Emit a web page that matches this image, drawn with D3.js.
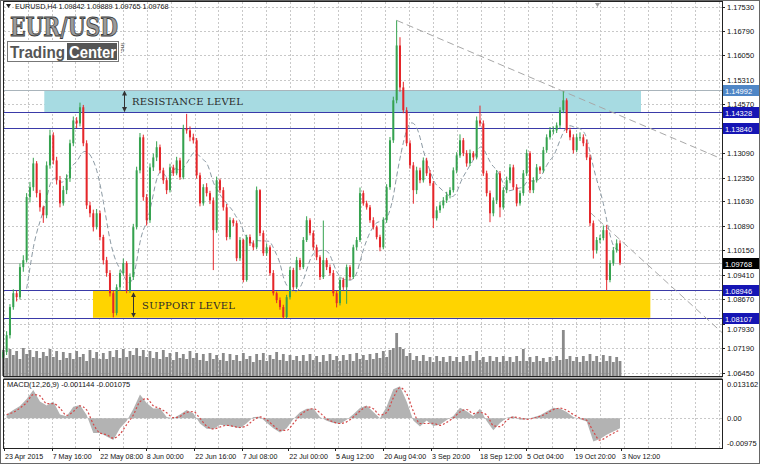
<!DOCTYPE html>
<html>
<head>
<meta charset="utf-8">
<script src="https://cdn.jsdelivr.net/npm/d3@7"></script>
<style>
  body { margin: 0; background: #fff; }
  svg { display: block; font-family: "Liberation Sans", Arial, sans-serif; }
</style>
</head>
<body>
<svg width="760" height="464"></svg>
<script>
// ---- data (one bar ~ one trading day) ----
const firstOpen = 1.0690;
const closes = [
  1.0707, 1.0758, 1.0843, 1.0885, 1.0873, 1.0964, 1.0985, 1.1176, 1.1206, 1.1278,
  1.1188, 1.1145, 1.1121, 1.1272, 1.1363, 1.1287, 1.1227, 1.1157, 1.1197, 1.1233,
  1.1339, 1.1408, 1.1399, 1.1448, 1.1339, 1.1151, 1.1127, 1.1085, 1.1127, 1.1055,
  1.0985, 1.0946, 1.0885, 1.0825, 1.0903, 1.0946, 1.0976, 1.0894, 1.0934, 1.1085,
  1.1257, 1.1357, 1.1176, 1.1106, 1.1266, 1.1296, 1.1327, 1.1257, 1.1227, 1.1197,
  1.1266, 1.1248, 1.1287, 1.1236, 1.1384, 1.1378, 1.1357, 1.1348, 1.1242, 1.1157,
  1.1206, 1.1188, 1.1166, 1.1076, 1.1227, 1.1197, 1.1145, 1.1055, 1.1106, 1.1097,
  1.0991, 1.1046, 1.0925, 1.1055, 1.1036, 1.1024, 1.1197, 1.1067, 1.1006, 1.1024,
  1.0946, 1.0885, 1.0864, 1.0843, 1.0813, 1.0873, 1.0955, 1.0903, 1.0985, 1.0964,
  1.1046, 1.1106, 1.1067, 1.1024, 1.0994, 1.0934, 1.0985, 1.0964, 1.0946, 1.0885,
  1.0855, 1.0925, 1.0903, 1.0964, 1.0934, 1.1024, 1.1046, 1.1188, 1.1157, 1.1145,
  1.1106, 1.1085, 1.1055, 1.1024, 1.1106, 1.1206, 1.1348, 1.1469, 1.1635, 1.1508,
  1.1439, 1.1339, 1.1272, 1.1197, 1.1257, 1.1227, 1.1287, 1.1248, 1.1218, 1.1112,
  1.1136, 1.1151, 1.1166, 1.1182, 1.1197, 1.1257, 1.1302, 1.1348, 1.1309, 1.1278,
  1.1309, 1.1296, 1.1408, 1.1399, 1.1248, 1.1188, 1.1127, 1.1166, 1.1248, 1.1145,
  1.1197, 1.1227, 1.1266, 1.1206, 1.1157, 1.1188, 1.1248, 1.1309, 1.1197, 1.1227,
  1.1266, 1.1257, 1.1318, 1.1357, 1.1378, 1.1378, 1.1393, 1.1439, 1.1469, 1.1378,
  1.1357, 1.1318, 1.1357, 1.1357, 1.1339, 1.1296, 1.1097, 1.1015, 1.1046, 1.1052,
  1.1076, 1.0925, 1.0976, 1.1015, 1.1036, 1.0977
];
const highs = [
  1.0718, 1.0770, 1.0852, 1.0897, 1.0893, 1.0975, 1.1000, 1.1188, 1.1222, 1.1295,
  1.1285, 1.1198, 1.1150, 1.1284, 1.1380, 1.1372, 1.1298, 1.1240, 1.1210, 1.1245,
  1.1350, 1.1420, 1.1418, 1.1462, 1.1455, 1.1348, 1.1162, 1.1138, 1.1140, 1.1135,
  1.1062, 1.0995, 1.0955, 1.0893, 1.0912, 1.0955, 1.0990, 1.0982, 1.0945, 1.1095,
  1.1268, 1.1370, 1.1365, 1.1185, 1.1278, 1.1308, 1.1345, 1.1335, 1.1265, 1.1235,
  1.1277, 1.1274, 1.1298, 1.1295, 1.1395, 1.1428, 1.1390, 1.1368, 1.1355, 1.1250,
  1.1215, 1.1218, 1.1195, 1.1175, 1.1238, 1.1232, 1.1206, 1.1155, 1.1115, 1.1112,
  1.1105, 1.1055, 1.1050, 1.1062, 1.1063, 1.1045, 1.1208, 1.1200, 1.1075, 1.1035,
  1.1030, 1.0955, 1.0890, 1.0872, 1.0850, 1.0880, 1.0965, 1.0962, 1.0995, 1.0992,
  1.1055, 1.1118, 1.1112, 1.1075, 1.1032, 1.1000, 1.1105, 1.0992, 1.0972, 1.0955,
  1.0893, 1.0935, 1.0932, 1.0972, 1.0970, 1.1032, 1.1055, 1.1205, 1.1196, 1.1165,
  1.1152, 1.1115, 1.1090, 1.1062, 1.1115, 1.1215, 1.1358, 1.1480, 1.1711, 1.1660,
  1.1525, 1.1448, 1.1348, 1.1282, 1.1268, 1.1265, 1.1296, 1.1295, 1.1258, 1.1225,
  1.1148, 1.1162, 1.1176, 1.1192, 1.1206, 1.1266, 1.1312, 1.1366, 1.1355, 1.1318,
  1.1320, 1.1315, 1.1420, 1.1453, 1.1408, 1.1256, 1.1196, 1.1175, 1.1258, 1.1255,
  1.1206, 1.1238, 1.1276, 1.1274, 1.1215, 1.1196, 1.1258, 1.1320, 1.1315, 1.1236,
  1.1276, 1.1270, 1.1328, 1.1366, 1.1388, 1.1390, 1.1402, 1.1448, 1.1496, 1.1475,
  1.1386, 1.1366, 1.1368, 1.1372, 1.1366, 1.1350, 1.1305, 1.1105, 1.1055, 1.1062,
  1.1090, 1.1092, 1.0985, 1.1025, 1.1048, 1.1045
];
const lows = [
  1.0685, 1.0698, 1.0748, 1.0835, 1.0860, 1.0866, 1.0950, 1.0978, 1.1160, 1.1195,
  1.1175, 1.1132, 1.1098, 1.1112, 1.1262, 1.1275, 1.1214, 1.1145, 1.1150, 1.1185,
  1.1222, 1.1330, 1.1385, 1.1390, 1.1330, 1.1140, 1.1115, 1.1072, 1.1078, 1.1045,
  1.0972, 1.0935, 1.0875, 1.0812, 1.0818, 1.0892, 1.0938, 1.0885, 1.0886, 1.0925,
  1.1078, 1.1248, 1.1165, 1.1090, 1.1098, 1.1255, 1.1285, 1.1248, 1.1216, 1.1185,
  1.1190, 1.1240, 1.1242, 1.1228, 1.1230, 1.1368, 1.1345, 1.1338, 1.1232, 1.1148,
  1.1150, 1.1178, 1.1155, 1.0955, 1.1068, 1.1188, 1.1135, 1.1045, 1.1048, 1.1088,
  1.0982, 1.0983, 1.0918, 1.0920, 1.1028, 1.1015, 1.1018, 1.1058, 1.0998, 1.0998,
  1.0938, 1.0878, 1.0855, 1.0835, 1.0808, 1.0810, 1.0866, 1.0895, 1.0898, 1.0955,
  1.0958, 1.1040, 1.1060, 1.1015, 1.0985, 1.0925, 1.0928, 1.0955, 1.0938, 1.0876,
  1.0842, 1.0848, 1.0895, 1.0853, 1.0925, 1.0928, 1.1015, 1.1040, 1.1150, 1.1138,
  1.1098, 1.1078, 1.1048, 1.1012, 1.1018, 1.1098, 1.1198, 1.1340, 1.1460, 1.1495,
  1.1430, 1.1330, 1.1262, 1.1156, 1.1185, 1.1218, 1.1220, 1.1240, 1.1210, 1.1082,
  1.1105, 1.1128, 1.1142, 1.1158, 1.1172, 1.1190, 1.1248, 1.1295, 1.1300, 1.1268,
  1.1270, 1.1288, 1.1290, 1.1390, 1.1240, 1.1178, 1.1100, 1.1118, 1.1155, 1.1115,
  1.1138, 1.1188, 1.1218, 1.1198, 1.1148, 1.1150, 1.1180, 1.1240, 1.1188, 1.1188,
  1.1220, 1.1246, 1.1250, 1.1310, 1.1350, 1.1366, 1.1370, 1.1385, 1.1430, 1.1370,
  1.1348, 1.1308, 1.1312, 1.1346, 1.1330, 1.1288, 1.1088, 1.0990, 1.1005, 1.1036,
  1.1045, 1.0894, 1.0918, 1.0968, 1.1008, 1.0970
];
const volumes = [
  5200, 3600, 5400, 4200, 5000, 3400, 5600, 4400, 5200, 3800, 5000, 3600, 4800, 4000, 5400,
  3800, 5000, 3200, 4800, 3600, 4600, 3400, 5000, 3800, 4400, 3000, 5200, 3600, 4800, 3400,
  4600, 3400, 5000, 3800, 5200, 3600, 5400, 3800, 5000, 4200, 5600, 4000, 5200, 3800, 5000,
  3600, 4800, 3400, 5200, 3800, 4600, 3200, 4800, 3600, 4400, 3400, 5000, 3600, 4600, 3200,
  4400, 3000, 4600, 3400, 4200, 3200, 4600, 3000, 4400, 3200, 4200, 3000, 4600, 3400, 4000,
  2800, 4400, 3200, 4600, 3000, 4200, 3400, 4800, 3200, 4400, 3000, 4200, 3200, 4000, 3000,
  4200, 3000, 4400, 3200, 4000, 2800, 4200, 3000, 4400, 3200, 4000, 3000, 4200, 3200, 4400,
  3000, 4600, 3400, 4200, 3200, 4400, 3400, 4600, 3600, 5000, 3800, 5200, 5600, 8600, 5800,
  5400, 4000, 4600, 3200, 4000, 3000, 4200, 3000, 3800, 2800, 4000, 3000, 3800, 2800, 4000,
  3000, 3800, 2800, 4000, 3000, 4200, 3000, 5000, 3200, 3800, 2800, 4000, 3000, 3800, 2800,
  4000, 3000, 3800, 2800, 4000, 3000, 5400, 3000, 3800, 2800, 4000, 3000, 3600, 2800, 3800,
  3000, 4000, 3200, 9200, 3400, 4000, 3000, 3800, 2800, 4000, 3000, 4400, 3000, 4000, 2800,
  4200, 3000, 4000, 2800, 3800, 3000
];
// MACD main line, one reading for every second bar
const macdMain = [
  0.0015, 0.0032, 0.0048, 0.0075, 0.0110, 0.0065, 0.0050, 0.0065, 0.0015, 0.0008,
  0.0045, 0.0052, 0.0013, -0.0057, -0.0057, -0.0070, -0.0084, -0.0038, -0.0010, 0.0036,
  0.0093, 0.0060, 0.0038, 0.0039, 0.0005, 0.0000, 0.0015, 0.0032, 0.0020, -0.0020,
  -0.0040, -0.0042, -0.0025, -0.0029, -0.0033, -0.0038, -0.0019, 0.0005, 0.0006, -0.0017,
  -0.0038, -0.0055, -0.0038, -0.0002, 0.0024, 0.0037, 0.0038, 0.0005, -0.0009, -0.0018,
  -0.0022, -0.0005, 0.0016, 0.0040, 0.0050, 0.0025, 0.0000, 0.0046, 0.0113, 0.0125,
  0.0065, -0.0008, -0.0032, -0.0008, -0.0030, -0.0025, -0.0006, 0.0009, 0.0041, 0.0028,
  0.0009, 0.0037, -0.0010, -0.0046, -0.0018, 0.0002, 0.0008, -0.0005, -0.0003, 0.0004,
  0.0012, 0.0027, 0.0041, 0.0038, 0.0025, 0.0005, -0.0003, -0.0012, -0.0090, -0.0080,
  -0.0064, -0.0051, -0.0038
];

const priceTicks = [1.1753, 1.1679, 1.1605, 1.1531, 1.1457, 1.1384, 1.1309, 1.1235,
  1.1163, 1.1089, 1.1015, 1.0941, 1.0867, 1.0793, 1.0719, 1.0645];
const timeTickBars = [1.2, 15.5, 29.8, 43.7, 58.3, 72.5, 86.5, 100.5, 115, 129.3, 143.7, 157.8, 172.2, 186.3];
const timeTickLabels = ["23 Apr 2015", "7 May 16:00", "22 May 08:00", "8 Jun 00:00", "22 Jun 16:00",
  "7 Jul 08:00", "22 Jul 00:00", "5 Aug 12:00", "20 Aug 04:00", "3 Sep 20:00", "18 Sep 12:00",
  "5 Oct 04:00", "19 Oct 20:00", "3 Nov 12:00"];

const zoneTopPrice = 1.14992;
const resistanceLines = [1.14328, 1.13840];
const supportLines = [1.08946, 1.08107];
const lastPrice = 1.09768;
const resistanceZoneBars = [13.3, 192.3];
const supportZoneBars = [27.9, 195.1];
const macdTicks = [0.013162, 0, -0.00975];
const macdTickLabels = ["0.013162", "0.00", "-0.00975"];

// ---- layout ----
const svg = d3.select("svg");
const main = { left: 4, right: 722, top: 2, bottom: 376 };
const sub = { top: 379, bottom: 448 };

const x = d3.scaleLinear().domain([1, closes.length]).range([3.3, 620]);
const y = d3.scaleLinear().domain([1.0645, 1.1753]).range([372.5, 6.5]);
const yVol = d3.scaleLinear().domain([0, 10000]).range([main.bottom, main.bottom - 50]);
const yMacd = d3.scaleLinear().domain([-0.0115, 0.0145]).range([sub.bottom, sub.top + 2]);

const bars = closes.map((c, i) => ({
  i: i + 1,
  o: i === 0 ? firstOpen : closes[i - 1],
  h: highs[i], l: lows[i], c: c, v: volumes[i]
}));

svg.append("rect").attr("width", 760).attr("height", 464).attr("fill", "#fff");

// grid
const step = timeTickBars[2] - timeTickBars[1];
const gridBars = [];
for (let b = timeTickBars[0]; x(b) < main.right; b += step / 2) gridBars.push(b);

const grid = svg.append("g")
  .attr("stroke", "#c8c8c8")
  .attr("stroke-dasharray", "2,2");
grid.selectAll(".gv").data(gridBars).enter().append("line")
  .attr("x1", d => Math.round(x(d)) + 0.5).attr("x2", d => Math.round(x(d)) + 0.5)
  .attr("y1", main.top).attr("y2", sub.bottom);
grid.selectAll(".gh").data(priceTicks).enter().append("line")
  .attr("x1", main.left).attr("x2", main.right)
  .attr("y1", d => Math.round(y(d)) + 0.5).attr("y2", d => Math.round(y(d)) + 0.5);
grid.append("line")
  .attr("x1", main.left).attr("x2", main.right)
  .attr("y1", Math.round(yMacd(0)) + 0.5).attr("y2", Math.round(yMacd(0)) + 0.5);

// zones
svg.append("rect")
  .attr("x", x(resistanceZoneBars[0])).attr("width", x(resistanceZoneBars[1]) - x(resistanceZoneBars[0]))
  .attr("y", y(zoneTopPrice)).attr("height", y(resistanceLines[0]) - y(zoneTopPrice))
  .attr("fill", "#a7dbe2");
svg.append("rect")
  .attr("x", x(supportZoneBars[0])).attr("width", x(supportZoneBars[1]) - x(supportZoneBars[0]))
  .attr("y", y(supportLines[0])).attr("height", y(supportLines[1]) - y(supportLines[0]))
  .attr("fill", "#ffd400");

// volumes
svg.append("g").selectAll("rect").data(bars).enter().append("rect")
  .attr("x", d => x(d.i) - 1.4).attr("width", 2.8)
  .attr("y", d => yVol(d.v)).attr("height", d => yVol(0) - yVol(d.v))
  .attr("fill", "#8a8a8a");

// level lines
const hline = (p, color) => svg.append("line")
  .attr("x1", main.left).attr("x2", main.right)
  .attr("y1", Math.round(y(p)) + 0.5).attr("y2", Math.round(y(p)) + 0.5)
  .attr("stroke", color).attr("stroke-width", 1);
hline(zoneTopPrice, "#a9b4bb");
hline(lastPrice, "#c4c4c4");
resistanceLines.concat(supportLines).forEach(p => hline(p, "#3a3aa8"));

// moving average (8 bars)
const ma = bars.map((d, i) => i < 7 ? null : d3.mean(closes.slice(i - 7, i + 1)));
svg.append("path")
  .datum(bars.map((d, i) => [d.i, ma[i]]).filter(d => d[1] !== null))
  .attr("fill", "none").attr("stroke", "#8c9aa4").attr("stroke-width", 1)
  .attr("stroke-dasharray", "5,3")
  .attr("d", d3.line().x(d => x(d[0])).y(d => y(d[1])).curve(d3.curveBasis));

// trend lines through the two swing highs
const slope = (highs[168] - highs[118]) / (169 - 119);
const endBar = x.invert(main.right);
svg.append("line")
  .attr("x1", x(119)).attr("y1", y(highs[118]))
  .attr("x2", main.right).attr("y2", y(highs[118] + slope * (endBar - 119)))
  .attr("stroke", "#a8a8a8").attr("stroke-dasharray", "7,4");
const t2Start = 1.1130, t2End = 1.0766;
svg.append("line")
  .attr("x1", x(177)).attr("y1", y(t2Start))
  .attr("x2", main.right).attr("y2", y(t2End))
  .attr("stroke", "#a8a8a8").attr("stroke-dasharray", "7,4");

// candles
const up = "#35a24f", down = "#e5262a";
const candles = svg.append("g").selectAll("g").data(bars).enter().append("g");
candles.append("line")
  .attr("x1", d => x(d.i)).attr("x2", d => x(d.i))
  .attr("y1", d => y(d.h)).attr("y2", d => y(d.l))
  .attr("stroke", d => d.c >= d.o ? up : down).attr("stroke-width", 1);
candles.append("rect")
  .attr("x", d => x(d.i) - 1).attr("width", 2)
  .attr("y", d => y(Math.max(d.o, d.c)))
  .attr("height", d => Math.max(1, Math.abs(y(d.o) - y(d.c))))
  .attr("fill", d => d.c >= d.o ? up : down);

// MACD
const macdPts = macdMain.map((v, j) => ({ b: 2 * (j + 1), v }));
svg.append("path").datum(macdPts)
  .attr("fill", "#b3b3b3")
  .attr("d", d3.area().x(d => x(d.b)).y0(yMacd(0)).y1(d => yMacd(d.v)));
const signal = macdPts.map((d, j) => ({ b: d.b, v: j === 0 ? d.v : (d.v + macdPts[j - 1].v) / 2 }));
svg.append("path").datum(signal)
  .attr("fill", "none").attr("stroke", "#d44848").attr("stroke-width", 1.2)
  .attr("stroke-dasharray", "2,2")
  .attr("d", d3.line().x(d => x(d.b)).y(d => yMacd(d.v)).curve(d3.curveMonotoneX));

// window frames
svg.append("rect").attr("x", 3.5).attr("y", 1.5).attr("width", main.right - 3).attr("height", main.bottom - 1)
  .attr("fill", "none").attr("stroke", "#222");
svg.append("rect").attr("x", 3.5).attr("y", 377.5).attr("width", main.right - 3).attr("height", 1.5)
  .attr("fill", "#777");
svg.append("rect").attr("x", 3.5).attr("y", sub.top + 0.5).attr("width", main.right - 3).attr("height", sub.bottom - sub.top)
  .attr("fill", "none").attr("stroke", "#222");
svg.append("rect").attr("x", 0.5).attr("y", 0.5).attr("width", 759).attr("height", 463)
  .attr("fill", "none").attr("stroke", "#666");

// price axis (the tick hidden under the 1.13840 level box is not labelled)
const axisText = svg.append("g").attr("font-size", 7.5).attr("fill", "#111");
priceTicks.forEach(p => {
  axisText.append("line").attr("x1", main.right).attr("x2", main.right + 3)
    .attr("y1", Math.round(y(p)) + 0.5).attr("y2", Math.round(y(p)) + 0.5).attr("stroke", "#222");
  if (resistanceLines.some(r => Math.abs(r - p) < 0.0002)) return;
  axisText.append("text").attr("x", 727).attr("y", y(p) + (p === 1.0793 ? 8 : 3)).text(p.toFixed(5));
});
macdTicks.forEach((v, i) => {
  axisText.append("text").attr("x", 727).attr("y", yMacd(v) + 3).text(macdTickLabels[i]);
});

// time axis
timeTickBars.forEach((b, i) => {
  axisText.append("line").attr("x1", Math.round(x(b)) + 0.5).attr("x2", Math.round(x(b)) + 0.5)
    .attr("y1", sub.bottom).attr("y2", sub.bottom + 3).attr("stroke", "#222");
  axisText.append("text").attr("x", x(b) + 1).attr("y", 459).attr("font-size", 7.1).text(timeTickLabels[i]);
});

// price boxes on the axis
const box = (p, fill) => {
  const g = svg.append("g").attr("transform", `translate(723,${Math.round(y(p)) - 5})`);
  g.append("rect").attr("width", 36).attr("height", 11).attr("fill", fill);
  g.append("text").attr("x", 2).attr("y", 8.5).attr("font-size", 7.5).attr("fill", "#fff").text(p.toFixed(5));
};
box(zoneTopPrice, "#4f86c6");
resistanceLines.concat(supportLines).forEach(p => box(p, "#1515b4"));
box(lastPrice, "#000");

// labels on the zones
const ann = svg.append("g").attr("font-family", "'DejaVu Serif', 'Liberation Serif', serif")
  .attr("font-size", 10).attr("fill", "#2a2a2a");
ann.append("text").attr("x", 132).attr("y", y(zoneTopPrice) + 15)
  .attr("textLength", 111).attr("lengthAdjust", "spacing").text("RESISTANCE LEVEL");
ann.append("text").attr("x", 142).attr("y", y(supportLines[0]) + 19)
  .attr("textLength", 93).attr("lengthAdjust", "spacing").text("SUPPORT LEVEL");

const defs = svg.append("defs");
defs.append("marker").attr("id", "ah").attr("viewBox", "0 0 6 6").attr("refX", 5).attr("refY", 3)
  .attr("markerWidth", 5).attr("markerHeight", 5).attr("orient", "auto-start-reverse")
  .append("path").attr("d", "M0,0L6,3L0,6Z").attr("fill", "#333");
svg.append("line").attr("x1", 124.5).attr("x2", 124.5)
  .attr("y1", y(zoneTopPrice) + 1).attr("y2", y(resistanceLines[0]) - 1)
  .attr("stroke", "#333").attr("marker-start", "url(#ah)").attr("marker-end", "url(#ah)");
svg.append("line").attr("x1", 133.5).attr("x2", 133.5)
  .attr("y1", y(supportLines[0]) + 3).attr("y2", y(supportLines[1]) - 1)
  .attr("stroke", "#333").attr("marker-start", "url(#ah)").attr("marker-end", "url(#ah)");

// header texts
svg.append("path").attr("d", "M6,4L11,4L8.5,8Z").attr("fill", "#222");
svg.append("text").attr("x", 15).attr("y", 9).attr("font-size", 7.2).attr("fill", "#111")
  .text("EURUSD,H4  1.09842 1.09889 1.09765 1.09768");
svg.append("path").attr("d", "M595,3L600,3L597.5,7Z").attr("fill", "#999");
svg.append("text").attr("x", 7).attr("y", 387).attr("font-size", 7.5).attr("fill", "#111")
  .text("MACD(12,26,9) -0.001144 -0.001075");

// logo
svg.append("text").attr("x", 10).attr("y", 36)
  .attr("font-family", "'DejaVu Serif', serif").attr("font-weight", "bold").attr("font-size", 26.5)
  .attr("textLength", 108).attr("lengthAdjust", "spacingAndGlyphs")
  .attr("fill", "#9b9b9b").attr("stroke", "#3c3c3c").attr("stroke-width", 0.9)
  .text("EUR/USD");
svg.append("rect").attr("x", 7.5).attr("y", 41.5).attr("width", 111).attr("height", 20)
  .attr("fill", "#fff").attr("stroke", "#777");
svg.append("rect").attr("x", 67).attr("y", 43).attr("width", 50).attr("height", 17).attr("fill", "#555");
svg.append("text").attr("x", 10).attr("y", 58).attr("font-weight", "bold").attr("font-size", 17)
  .attr("textLength", 55).attr("lengthAdjust", "spacingAndGlyphs").attr("fill", "#555").text("Trading");
svg.append("text").attr("x", 69).attr("y", 58).attr("font-weight", "bold").attr("font-size", 17)
  .attr("textLength", 47).attr("lengthAdjust", "spacingAndGlyphs").attr("fill", "#fff").text("Center");
svg.append("text").attr("transform", "translate(121,43) rotate(90)")
  .attr("font-size", 6).attr("font-weight", "bold").attr("fill", "#666").text("inc.");
</script>
</body>
</html>
